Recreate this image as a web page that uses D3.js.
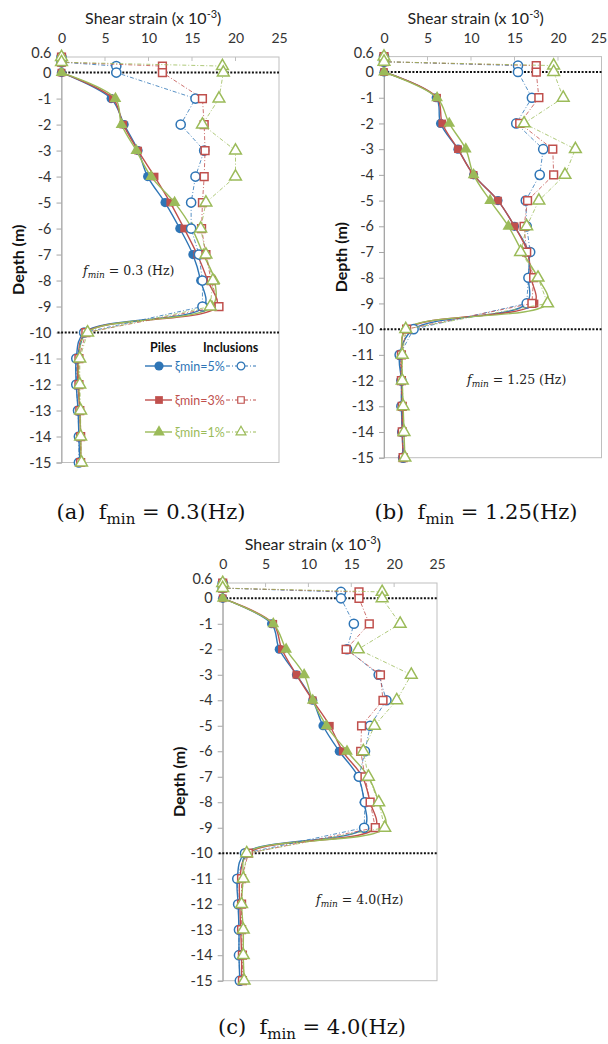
<!DOCTYPE html>
<html>
<head>
<meta charset="utf-8">
<script src="https://cdn.jsdelivr.net/npm/d3@7"></script>
<style>
  body { margin: 0; background: #fff; }
  svg { display: block; }
</style>
</head>
<body>
<script>
// depths (m) for piles and inclusions
var depthPiles = [0, -1, -2, -3, -4, -5, -6, -7, -8, -9, -10, -11, -12, -13, -14, -15];
var depthIncl = [0.6, 0.4, 0.25, 0, -1, -2, -3, -4, -5, -6, -7, -8, -9, -10, -11, -12, -13, -14, -15];
var depthTicks = [0.6, 0, -1, -2, -3, -4, -5, -6, -7, -8, -9, -10, -11, -12, -13, -14, -15];
var strainTicks = [0, 5, 10, 15, 20, 25];
var dampingLabels = ["\u03BEmin=5%", "\u03BEmin=3%", "\u03BEmin=1%"];
var fminLabels = ["0.3 (Hz)", "1.25 (Hz)", "4.0(Hz)"];
var captionLabels = ["0.3(Hz)", "1.25(Hz)", "4.0(Hz)"];

// shear strain (x 1e-3), f_min = 0.3 Hz
var pilesA5 = [0, 5.7, 7.2, 8.8, 9.9, 11.9, 13.6, 15.1, 16.0, 16.4, 2.6, 1.7, 1.7, 1.9, 2.0, 2.1];
var pilesA3 = [0, 5.9, 7.1, 8.8, 10.7, 12.5, 14.1, 15.6, 16.8, 17.8, 2.8, 1.9, 1.9, 2.1, 2.2, 2.2];
var pilesA1 = [0, 6.2, 6.9, 8.6, 10.3, 13.0, 15.0, 16.3, 17.6, 17.3, 2.9, 2.0, 2.0, 2.1, 2.2, 2.2];
var inclA5 = [0, 0, 6.3, 6.3, 15.4, 13.7, 16.4, 15.4, 14.9, 14.9, 15.8, 16.2, 16.2, 2.6, 1.7, 1.7, 1.9, 2.0, 2.0];
var inclA3 = [0, 0, 11.6, 11.6, 16.2, 16.4, 16.5, 16.4, 16.2, 16.1, 16.6, 17.2, 18.1, 2.8, 2.0, 2.0, 2.1, 2.2, 2.2];
var inclA1 = [0, 0, 18.5, 18.6, 18.1, 16.2, 20.0, 20.0, 16.6, 16.0, 16.6, 17.4, 17.1, 3.0, 2.1, 2.1, 2.2, 2.2, 2.3];

// f_min = 1.25 Hz
var pilesB5 = [0, 6.0, 6.5, 8.5, 10.3, 13.1, 15.0, 16.6, 16.6, 16.4, 3.4, 1.8, 2.0, 2.0, 2.1, 2.2];
var pilesB3 = [0, 6.1, 6.7, 8.5, 10.3, 13.1, 15.0, 16.5, 16.9, 17.3, 2.6, 2.0, 2.0, 2.1, 2.1, 2.2];
var pilesB1 = [0, 6.1, 7.5, 9.4, 10.3, 12.2, 14.3, 15.9, 17.7, 18.8, 2.5, 2.1, 2.1, 2.2, 2.3, 2.4];
var inclB5 = [0, 0, 15.4, 15.4, 17.0, 15.2, 18.3, 17.9, 16.3, 16.4, 16.8, 16.6, 16.4, 3.4, 1.8, 2.0, 2.0, 2.1, 2.2];
var inclB3 = [0, 0, 17.5, 17.5, 17.8, 15.6, 19.4, 19.5, 16.5, 16.1, 16.4, 17.2, 17.0, 2.6, 2.0, 2.0, 2.1, 2.1, 2.2];
var inclB1 = [0, 0, 19.5, 19.5, 20.6, 16.1, 22.0, 20.8, 17.8, 16.4, 15.7, 17.7, 18.8, 2.5, 2.1, 2.1, 2.2, 2.3, 2.4];

// f_min = 4.0 Hz
var pilesC5 = [0, 5.7, 6.6, 8.6, 10.5, 11.7, 13.6, 15.8, 16.5, 16.5, 2.6, 1.7, 1.8, 1.9, 1.9, 2.0];
var pilesC3 = [0, 5.9, 6.9, 8.6, 10.5, 12.5, 14.0, 16.3, 17.2, 17.8, 3.0, 2.0, 2.0, 2.1, 2.2, 2.2];
var pilesC1 = [0, 5.9, 7.4, 9.5, 10.5, 12.1, 14.5, 17.0, 18.2, 18.9, 2.8, 2.4, 2.2, 2.4, 2.4, 2.5];
var inclC5 = [0, 0, 13.8, 13.8, 15.3, 14.5, 18.2, 19.1, 17.2, 16.6, 15.9, 16.6, 16.5, 2.6, 1.7, 1.8, 1.9, 1.9, 2.0];
var inclC3 = [0, 0, 15.9, 15.9, 17.1, 14.4, 18.4, 18.7, 16.2, 16.1, 16.6, 17.2, 17.8, 3.0, 2.2, 2.2, 2.2, 2.3, 2.3];
var inclC1 = [0, 0, 18.6, 18.6, 20.7, 15.8, 22.0, 20.3, 17.7, 16.4, 17.0, 18.2, 18.9, 2.8, 2.4, 2.2, 2.4, 2.4, 2.5];

var colors = ["#2e75b6", "#c0504d", "#9bbb59"];
var symbols = [d3.symbolCircle, d3.symbolSquare, d3.symbolTriangle];
var symbolSize = [66, 60, 60];

var panels = [
  {id: "a", piles: [pilesA5, pilesA3, pilesA1], incl: [inclA5, inclA3, inclA1],
   left: 61.5, right: 279, top: 57, bottom: 462.5, note: [83, 275], caption: [151, 519], legend: true},
  {id: "b", piles: [pilesB5, pilesB3, pilesB1], incl: [inclB5, inclB3, inclB1],
   left: 384, right: 601.5, top: 56.6, bottom: 457.7, note: [467, 384], caption: [476, 519]},
  {id: "c", piles: [pilesC5, pilesC3, pilesC1], incl: [inclC5, inclC3, inclC1],
   left: 222.7, right: 437, top: 583, bottom: 980.7, note: [316, 904], caption: [312, 1034]}
];

var svg = d3.select("body").append("svg")
    .attr("width", 608)
    .attr("height", 1044);

var sans = "Lato, 'Open Sans', sans-serif",
    serif = "'DejaVu Serif', serif";

panels.forEach(function(p, pi) {
  var x = d3.scaleLinear().domain([0, 25]).range([p.left, p.right]);
  var y = d3.scaleLinear().domain([0.6, -15]).range([p.top, p.bottom]);
  var g = svg.append("g");

  // plot area box
  g.append("rect")
      .attr("x", x(0))
      .attr("y", y(0.6))
      .attr("width", x(25) - x(0))
      .attr("height", y(-15) - y(0.6))
      .attr("fill", "none")
      .attr("stroke", "#bfbfbf")
      .attr("stroke-width", 1);

  // x axis (top)
  var xAxis = g.append("g")
      .attr("transform", "translate(0," + y(0.6) + ")")
      .call(d3.axisTop(x).tickValues(strainTicks).tickSize(0).tickPadding(14));
  xAxis.select(".domain").remove();
  xAxis.selectAll("text")
      .attr("font-family", sans)
      .attr("font-size", 14)
      .attr("fill", "#333");
  // keep the last label inside the page on the right-hand panel
  if (x(25) > 590) {
    xAxis.selectAll(".tick text")
        .filter(function(d) { return d === 25; })
        .attr("dx", -3);
  }

  // small inside ticks along the top
  g.selectAll(".xtick")
      .data(strainTicks.slice(1, 5))
    .enter().append("line")
      .attr("x1", function(d) { return x(d); })
      .attr("x2", function(d) { return x(d); })
      .attr("y1", y(0.6))
      .attr("y2", y(0.6) + 4)
      .attr("stroke", "#bfbfbf");

  // y axis
  var yAxis = g.append("g")
      .attr("transform", "translate(" + x(0) + ",0)")
      .call(d3.axisLeft(y).tickValues(depthTicks).tickSize(5).tickPadding(5)
        .tickFormat(function(d) { return String(d); }));
  yAxis.select(".domain").attr("stroke", "#a6a6a6");
  yAxis.selectAll(".tick line").attr("stroke", "#a6a6a6");
  yAxis.selectAll("text")
      .attr("font-family", sans)
      .attr("font-size", 14.5)
      .attr("fill", "#333");
  // lift the 0.6 label a little, as in the original
  yAxis.selectAll(".tick text")
      .filter(function(d) { return d === 0.6; })
      .attr("dy", "0.05em");

  // axis titles
  var title = g.append("text")
      .attr("x", (p.left + p.right) / 2 - 17)
      .attr("y", p.top - 33)
      .attr("text-anchor", "middle")
      .attr("font-family", sans)
      .attr("font-size", 16)
      .attr("fill", "#222");
  title.append("tspan").text("Shear strain (x 10");
  title.append("tspan").attr("dy", -6).attr("font-size", 11).text("-3");
  title.append("tspan").attr("dy", 6).text(")");

  g.append("text")
      .attr("transform", "translate(" + (p.left - 43) + "," + (p.top + p.bottom) / 2 + ") rotate(-90)")
      .attr("text-anchor", "middle")
      .attr("dy", "0.35em")
      .attr("font-family", sans)
      .attr("font-size", 16)
      .attr("font-weight", "bold")
      .attr("fill", "#111")
      .text("Depth (m)");

  // dotted reference lines at ground surface and pile toe
  g.selectAll(".ref")
      .data([0, -10])
    .enter().append("line")
      .attr("x1", x(0) - 4)
      .attr("x2", x(25))
      .attr("y1", function(d) { return y(d); })
      .attr("y2", function(d) { return y(d); })
      .attr("stroke", "#111")
      .attr("stroke-width", 2)
      .attr("stroke-dasharray", "2,1.6");

  var pileLine = d3.line()
      .x(function(d) { return x(d[0]); })
      .y(function(d) { return y(d[1]); })
      .curve(d3.curveCatmullRom.alpha(0.5));

  var inclLine = d3.line()
      .x(function(d) { return x(d[0]); })
      .y(function(d) { return y(d[1]); });

  // piles: solid smoothed lines with filled markers
  p.piles.forEach(function(vals, k) {
    var pts = vals.map(function(v, i) { return [v, depthPiles[i]]; });
    g.append("path")
        .attr("d", pileLine(pts))
        .attr("fill", "none")
        .attr("stroke", colors[k])
        .attr("stroke-width", 1.4);
    g.selectAll(".pm" + k)
        .data(pts)
      .enter().append("path")
        .attr("transform", function(d) { return "translate(" + x(d[0]) + "," + y(d[1]) + ")"; })
        .attr("d", d3.symbol().type(symbols[k]).size(symbolSize[k]))
        .attr("fill", colors[k]);
  });

  // inclusions: dash-dot lines with hollow markers
  p.incl.forEach(function(vals, k) {
    var pts = vals.map(function(v, i) { return [v, depthIncl[i]]; });
    g.append("path")
        .attr("d", inclLine(pts))
        .attr("fill", "none")
        .attr("stroke", colors[k])
        .attr("stroke-opacity", 0.8)
        .attr("stroke-width", 1)
        .attr("stroke-dasharray", "4,2,1,2");
    g.selectAll(".im" + k)
        .data(pts)
      .enter().append("path")
        .attr("transform", function(d) { return "translate(" + x(d[0]) + "," + y(d[1]) + ")"; })
        .attr("d", d3.symbol().type(symbols[k]).size(symbolSize[k]))
        .attr("fill", "#fff")
        .attr("stroke", colors[k])
        .attr("stroke-width", 1.5);
  });

  // f_min annotation inside the plot
  var note = g.append("text")
      .attr("x", p.note[0])
      .attr("y", p.note[1])
      .attr("font-family", serif)
      .attr("font-size", 12.5)
      .attr("fill", "#222")
      .style("white-space", "pre");
  note.append("tspan").attr("font-style", "italic").text("f");
  note.append("tspan").attr("font-style", "italic").attr("font-size", 9).attr("dy", 3).text("min");
  note.append("tspan").attr("dy", -3).text(" = " + fminLabels[pi]);

  // caption below the panel
  var cap = svg.append("text")
      .attr("x", p.caption[0])
      .attr("y", p.caption[1])
      .attr("text-anchor", "middle")
      .attr("font-family", serif)
      .attr("font-size", 21)
      .attr("fill", "#111")
      .style("white-space", "pre");
  cap.append("tspan").text("(" + p.id + ")  f");
  cap.append("tspan").attr("font-size", 15).attr("dy", 5).text("min");
  cap.append("tspan").attr("dy", -5).text(" = " + captionLabels[pi]);

  if (p.legend) {
    var lg = g.append("g");
    lg.append("text")
        .attr("x", 150).attr("y", 352)
        .attr("font-family", sans).attr("font-size", 12.5).attr("font-weight", "bold")
        .attr("fill", "#111").text("Piles");
    lg.append("text")
        .attr("x", 203).attr("y", 352)
        .attr("font-family", sans).attr("font-size", 12.5).attr("font-weight", "bold")
        .attr("fill", "#111").text("Inclusions");
    var rows = [366, 400, 432];
    dampingLabels.forEach(function(label, k) {
      var ry = rows[k];
      lg.append("line")
          .attr("x1", 145).attr("x2", 172).attr("y1", ry).attr("y2", ry)
          .attr("stroke", colors[k]).attr("stroke-width", 1.4);
      lg.append("path")
          .attr("transform", "translate(159," + ry + ")")
          .attr("d", d3.symbol().type(symbols[k]).size(symbolSize[k]))
          .attr("fill", colors[k]);
      lg.append("text")
          .attr("x", 175).attr("y", ry + 4.5)
          .attr("font-family", sans).attr("font-size", 12.5)
          .attr("fill", colors[k]).text(label);
      lg.append("line")
          .attr("x1", 226).attr("x2", 256).attr("y1", ry).attr("y2", ry)
          .attr("stroke", colors[k]).attr("stroke-width", 1)
          .attr("stroke-dasharray", "4,2,1,2");
      lg.append("path")
          .attr("transform", "translate(241," + ry + ")")
          .attr("d", d3.symbol().type(symbols[k]).size(symbolSize[k] * 0.7))
          .attr("fill", "#fff")
          .attr("stroke", colors[k]).attr("stroke-width", 1.2);
    });
  }
});
</script>
</body>
</html>
